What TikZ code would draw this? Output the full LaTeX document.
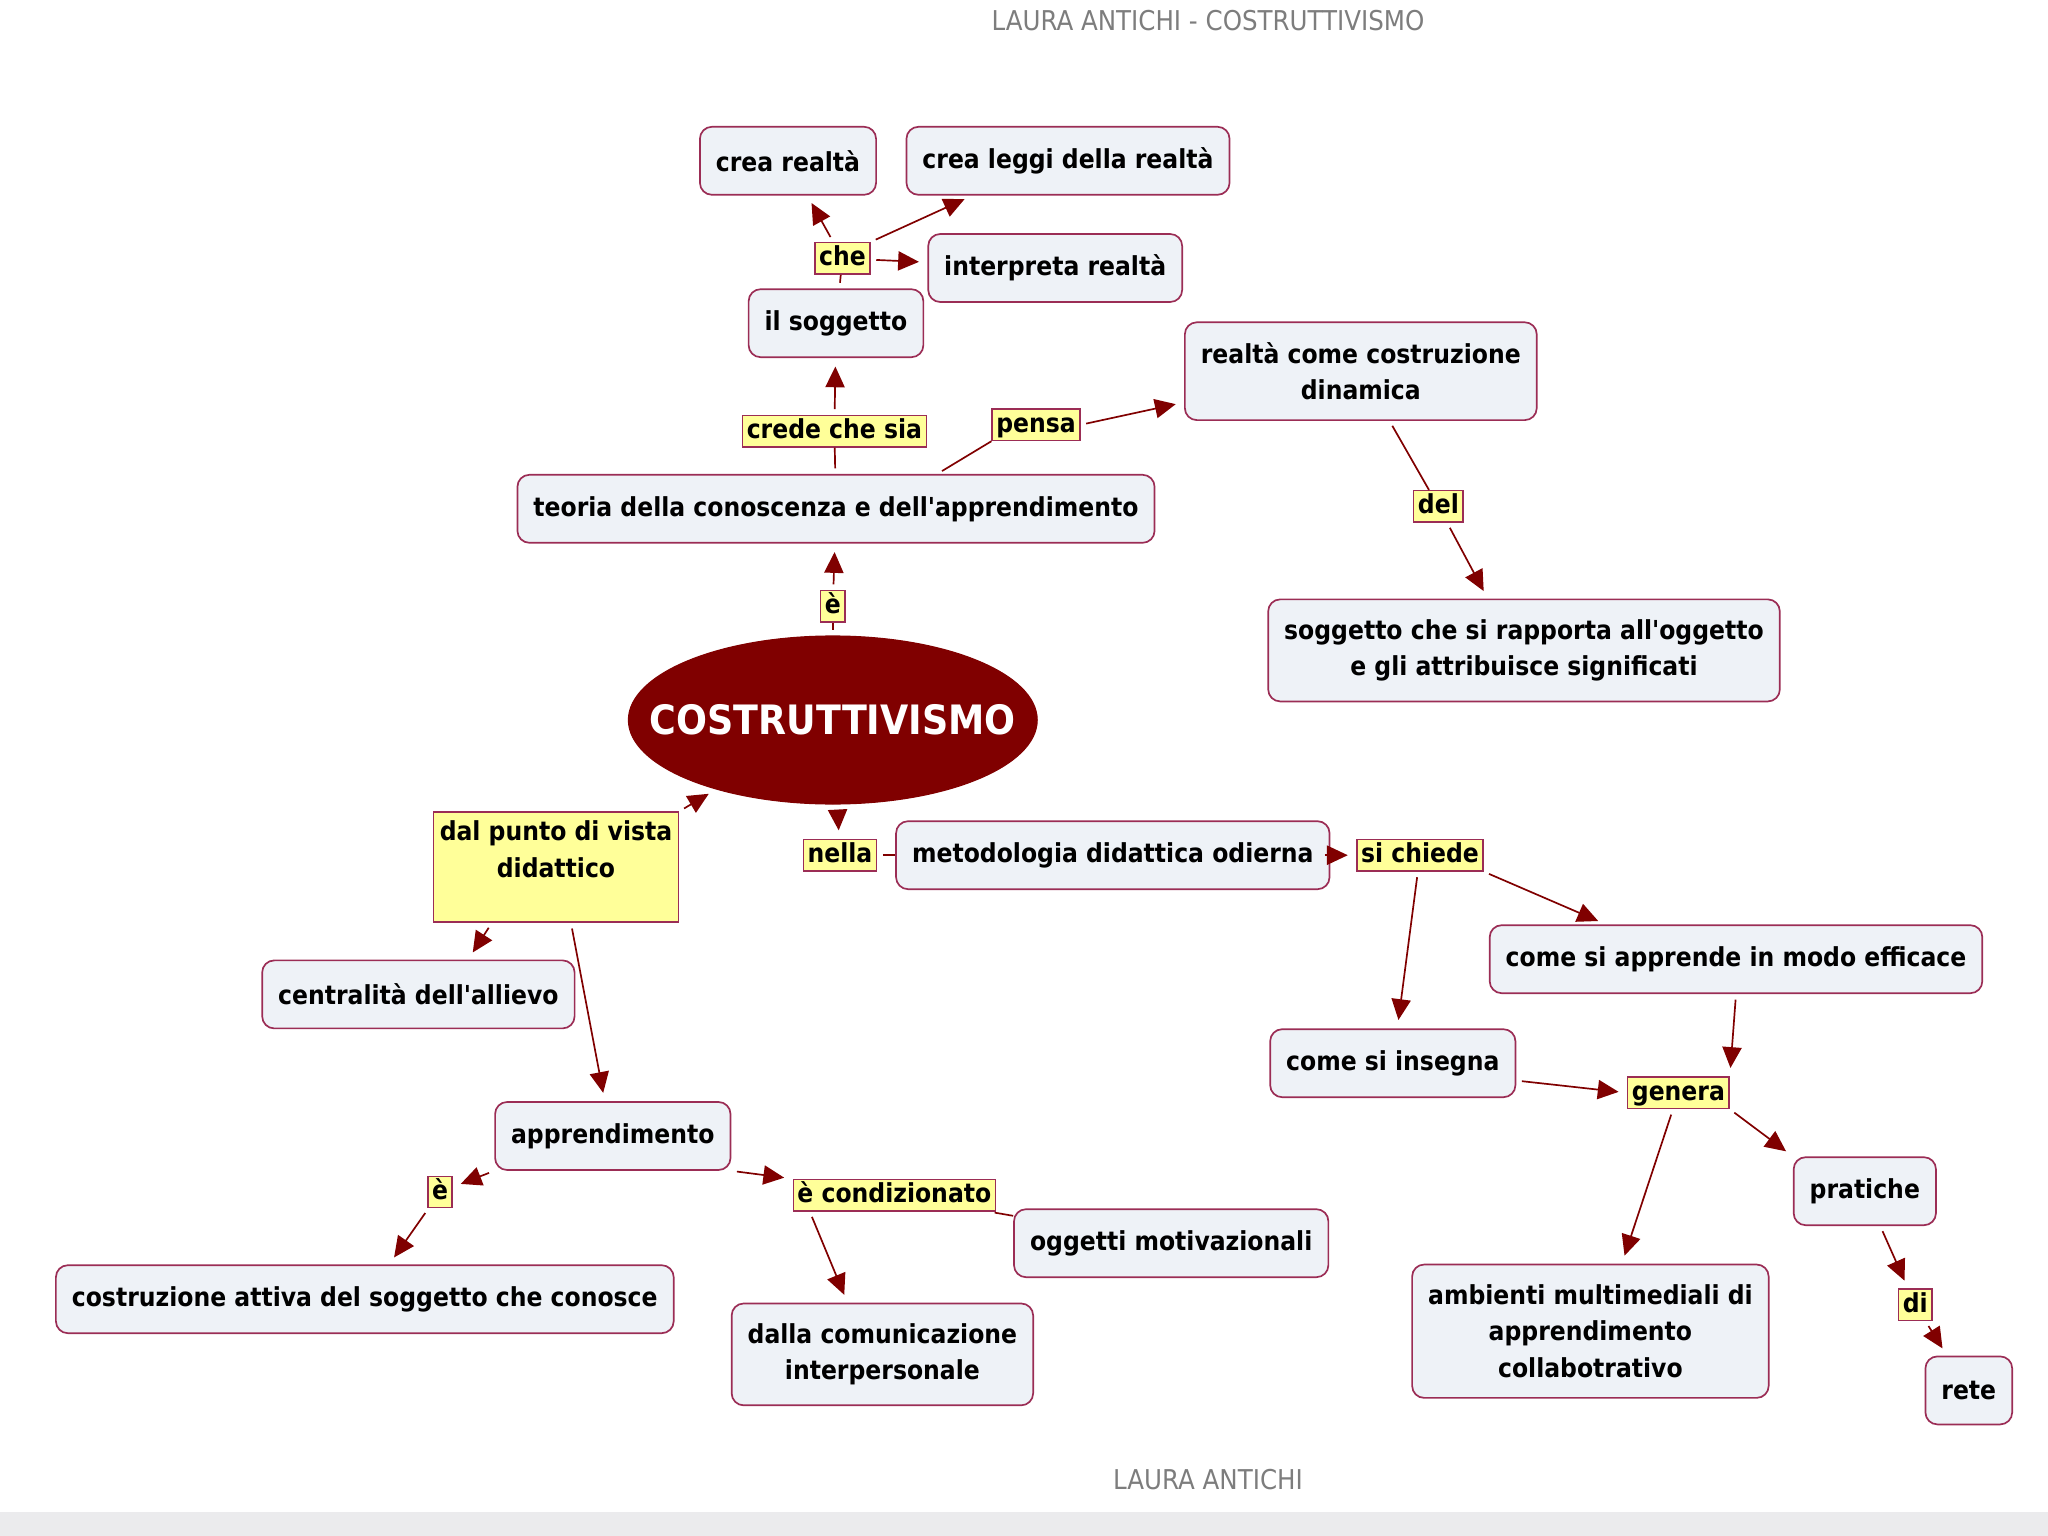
\documentclass[tikz,border=0pt]{standalone}
\usepackage{fontspec}
\setmainfont{DejaVu Sans Condensed}[Ligatures=TeXOff]
\usetikzlibrary{shapes.geometric,arrows.meta}
\definecolor{mapred}{RGB}{128,0,0}
\definecolor{boxline}{RGB}{155,45,85}
\definecolor{boxfill}{RGB}{238,242,247}
\definecolor{phrasefill}{RGB}{255,255,153}
\definecolor{titlegray}{RGB}{125,125,125}
\definecolor{bandgray}{RGB}{235,235,237}
\newcommand\mapfont{\bfseries\fontsize{9.3}{13}\selectfont}
\begin{document}
\begin{tikzpicture}[
        concept/.style={draw=boxline, fill=boxfill, rounded corners=0.15cm, line width=0.6pt,
                align=center, inner xsep=0.2cm, inner ysep=0.25cm, minimum height=0.85cm, font=\mapfont},
        phrase/.style={draw=boxline, fill=phrasefill, line width=0.5pt, inner xsep=1.5pt,
                inner ysep=0.8pt, text height=7.4pt, text depth=2.2pt, font=\mapfont},
        link/.style={draw=mapred, line width=0.6pt, shorten <=2pt},
        arrow/.style={link, -{Triangle[length=2.6mm, width=2.4mm]}, shorten >=3pt},
        caption/.style={text=titlegray, font=\fontsize{9.7}{11}\selectfont}
    ]
    \useasboundingbox (0,0) rectangle (25.6,-19.2);
    \fill[bandgray] (0,-18.9) rectangle (25.6,-19.2);
    \node[caption] (title) at (15.1,-0.26) {LAURA ANTICHI - COSTRUTTIVISMO};
    \node[caption] (footer) at (15.1,-18.5) {LAURA ANTICHI};

    \node[ellipse, draw=mapred, fill=mapred, minimum width=5.11cm, minimum height=2.1cm, inner sep=0pt,
        text=white, font=\bfseries\fontsize{14.4}{17}\selectfont] (cost) at (10.41,-9.0) {\makebox[2cm]{COSTRUTTIVISMO}};
    \node[phrase] (e1) at (10.41,-7.58) {è};
    \node[concept] (teoria) at (10.45,-6.36) {teoria della conoscenza e dell'apprendimento};
    \node[phrase] (crede) at (10.43,-5.39) {crede che sia};
    \node[phrase] (pensa) at (12.95,-5.31) {pensa};
    \node[concept] (soggetto) at (10.45,-4.04) {il soggetto};
    \node[phrase] (che) at (10.53,-3.23) {che};
    \node[concept] (crea) at (9.85,-2.01) {crea realtà};
    \node[concept] (leggi) at (13.35,-2.01) {crea leggi della realtà};
    \node[concept] (interp) at (13.19,-3.35) {interpreta realtà};
    \node[concept] (realta) at (17.01,-4.64) {realtà come costruzione\\dinamica};
    \node[phrase] (del) at (17.98,-6.33) {del};
    \node[concept] (rapporta) at (19.05,-8.13) {soggetto che si rapporta all'oggetto\\e gli attribuisce significati};

    \node[draw=boxline, fill=phrasefill, line width=0.6pt, minimum width=3.06cm, minimum height=1.375cm,
        inner sep=1pt, align=center, font=\mapfont] (dal) at (6.95,-10.84) {dal punto di vista\\didattico\\\mbox{}};
    \node[concept] (central) at (5.23,-12.43) {centralità dell'allievo};
    \node[concept] (appr) at (7.66,-14.2) {apprendimento};
    \node[phrase] (e2) at (5.5,-14.9) {è};
    \node[phrase] (cond) at (11.18,-14.94) {è condizionato};
    \node[concept] (costr) at (4.56,-16.24) {costruzione attiva del soggetto che conosce};
    \node[concept] (comunic) at (11.03,-16.93) {dalla comunicazione\\interpersonale};
    \node[concept] (motiv) at (14.64,-15.54) {oggetti motivazionali};

    \node[phrase] (nella) at (10.5,-10.69) {nella};
    \node[concept] (metod) at (13.91,-10.69) {metodologia didattica odierna};
    \node[phrase] (chiede) at (17.75,-10.69) {si chiede};
    \node[concept] (efficace) at (21.7,-11.99) {come si apprende in modo efficace};
    \node[concept] (insegna) at (17.41,-13.29) {come si insegna};
    \node[phrase] (genera) at (20.98,-13.66) {genera};
    \node[concept] (pratiche) at (23.31,-14.89) {pratiche};
    \node[concept] (ambienti) at (19.88,-16.64) {ambienti multimediali di\\apprendimento\\collabotrativo};
    \node[phrase] (di) at (23.94,-16.31) {di};
    \node[concept] (rete) at (24.61,-17.38) {rete};

    \draw[link] (cost) -- (e1);
    \draw[arrow] (e1) -- (teoria);
    \draw[link] (teoria) -- (crede);
    \draw[arrow] (crede) -- (soggetto);
    \draw[link] (teoria.19) -- (pensa.south west);
    \draw[arrow] (pensa.east) -- (realta.190);
    \draw[link] (soggetto) -- (che);
    \draw[arrow] (che) -- (crea);
    \draw[arrow] (che.north east) -- (leggi.200);
    \draw[arrow] (che) -- (interp);
    \draw[link] (realta.300) -- (del);
    \draw[arrow] (del) -- (rapporta.125);

    \draw[arrow] (dal.north east) -- (cost);
    \draw[arrow] (dal.221) -- (central.35);
    \draw[arrow] (dal.285) -- (appr.103);
    \draw[arrow] (appr.south west) -- (e2);
    \draw[arrow] (e2) -- (costr);
    \draw[arrow] (appr.south east) -- (cond.north west);
    \draw[arrow] (cond.191) -- (comunic.124);
    \draw[link] (cond) -- (motiv);

    \draw[arrow] (cost) -- (nella);
    \draw[link] (nella) -- (metod);
    \draw[arrow] (metod) -- (chiede);
    \draw[arrow] (chiede.south east) -- (efficace.165);
    \draw[arrow] (chiede) -- (insegna);
    \draw[arrow] (efficace.south) -- (genera.north east);
    \draw[arrow] (insegna.352) -- (genera.west);
    \draw[arrow] (genera) -- (ambienti.65);
    \draw[arrow] (genera.south east) -- (pratiche.north west);
    \draw[arrow] (pratiche) -- (di);
    \draw[arrow] (di) -- (rete);
\end{tikzpicture}
\end{document}
